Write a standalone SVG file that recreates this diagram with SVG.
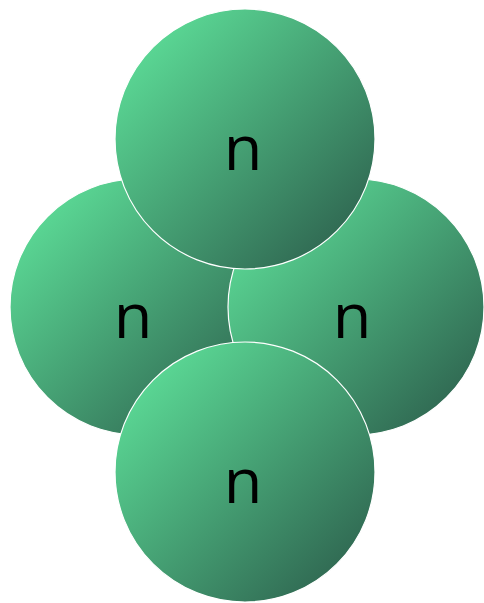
<svg xmlns="http://www.w3.org/2000/svg" width="484" height="603" viewBox="0 0 484 603">
<defs>
<linearGradient id="g" x1="0.1" y1="0.1" x2="0.95" y2="0.95">
<stop offset="0" stop-color="#5cdc97"/>
<stop offset="1" stop-color="#2c5e4c"/>
</linearGradient>
<style>
.c{fill:url(#g);stroke:#ffffff;stroke-width:1.2}
.t{font-family:"Open Sans","DejaVu Sans",sans-serif;font-size:63px;fill:#000;text-anchor:middle}
</style>
</defs>
<rect width="484" height="603" fill="#ffffff"/>
<g id="left"><circle class="c" cx="138" cy="307" r="128"/><text class="t" x="133" y="338">n</text></g>
<g id="right"><circle class="c" cx="356" cy="307" r="128"/><text class="t" x="352" y="338">n</text></g>
<g id="top"><circle class="c" cx="245" cy="139" r="130"/><text class="t" x="243" y="170">n</text></g>
<g id="bottom"><circle class="c" cx="245" cy="472" r="130"/><text class="t" x="243" y="503">n</text></g>
<g id="connectors"/>
</svg>
